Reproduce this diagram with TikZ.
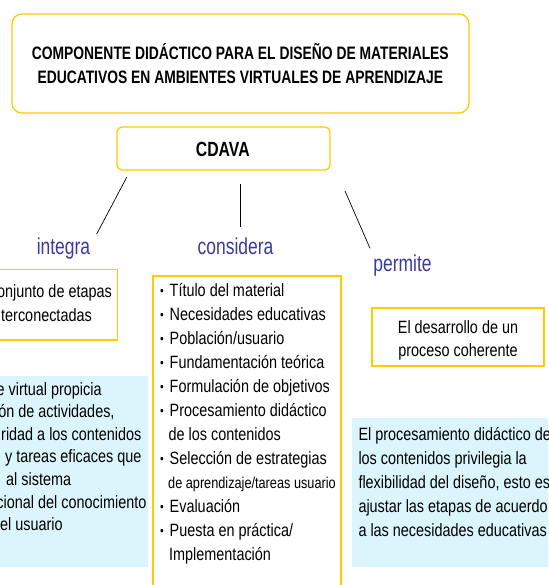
\documentclass[tikz,border=0pt]{standalone}
\usepackage{fontspec}
\setmainfont{Liberation Sans}[FakeStretch=0.81]
\newfontfamily\titlefont{Liberation Sans}[FakeStretch=0.77]
\newfontfamily\labelfont{Liberation Sans}[FakeStretch=0.76]
\definecolor{ybord}{RGB}{255,204,0}
\definecolor{lblue}{RGB}{58,58,158}
\definecolor{cyanfill}{RGB}{218,246,252}
\begin{document}
\begin{tikzpicture}[x=1pt,y=-1pt,
  ybox/.style={draw=ybord, line width=1.3pt, fill=white, inner sep=0pt},
  bbox/.style={fill=cyanfill, draw=none, inner sep=0pt},
  txt/.style={inner sep=0pt, anchor=base west, font=\fontsize{17.8}{21}\selectfont},
  smalltxt/.style={inner sep=0pt, anchor=base west, font=\fontsize{15.7}{19}\selectfont},
  ctxt/.style={inner sep=0pt, anchor=base, font=\fontsize{17.8}{21}\selectfont},
  ttl/.style={inner sep=0pt, anchor=base, font=\titlefont\bfseries\fontsize{18}{21}\selectfont},
  lbl/.style={inner sep=0pt, anchor=base, text=lblue, font=\labelfont\fontsize{23}{27}\selectfont},
  conn/.style={draw=black, line width=0.7pt},
  bul/.style={inner sep=0pt, anchor=base, font=\fontsize{13}{15}\selectfont}]
\useasboundingbox (0,0) rectangle (548,585);
\clip (0,0) rectangle (548,585);

% top box
\node[ybox, rounded corners=10pt, minimum width=457pt, minimum height=99pt] (top) at (240.5,63.5) {};
\node[ttl] (t1) at (240.3,59.3) {COMPONENTE DIDÁCTICO PARA EL DISEÑO DE MATERIALES};
\node[ttl] (t2) at (240.3,83.3) {EDUCATIVOS EN AMBIENTES VIRTUALES DE APRENDIZAJE};

% CDAVA
\node[ybox, rounded corners=5pt, minimum width=213pt, minimum height=43pt] (cdava) at (223.5,148.5) {};
\node[inner sep=0pt, anchor=base, font=\titlefont\bfseries\fontsize{20.5}{24}\selectfont] (cdt) at (222.8,156.7) {CDAVA};

% connectors
\coordinate (i1) at (126.7,177.3);
\coordinate (i2) at (96.7,234);
\coordinate (c1) at (240.7,184);
\coordinate (c2) at (240.7,227.3);
\coordinate (p1) at (345,191);
\coordinate (p2) at (370,248.3);
\draw[conn] (i1) -- (i2);
\draw[conn] (c1) -- (c2);
\draw[conn] (p1) -- (p2);

% labels
\node[lbl] (integra) at (63.5,254) {integra};
\node[lbl] (considera) at (235.5,254) {considera};
\node[lbl] (permite) at (402.5,271.7) {permite};

% conjunto box
\node[ybox, minimum width=127.3pt, minimum height=70.7pt] (conj) at (53.65,304.65) {};
\node[txt] (cj1) at (-3,297) {onjunto de etapas};
\node[txt] (cj2) at (1,321) {terconectadas};

% left blue box
\node[bbox, minimum width=158pt, minimum height=191pt] (lb) at (69,471.5) {};
\node[txt] (l1) at (-3.6,395) {e virtual propicia};
\node[txt] (l2) at (-1.9,417.6) {ón de actividades,};
\node[txt] (l3) at (1,440.2) {ridad a los contenidos};
\node[txt] (l4) at (5,462.8) {y tareas eficaces que};
\node[txt] (l5) at (6,485.4) {al sistema};
\node[txt] (l6) at (-3.7,508) {cional del conocimiento};
\node[txt] (l7) at (-8,530.6) {del usuario};

% considera box
\node[ybox, minimum width=188pt, minimum height=334pt] (cons) at (247,443) {};
\node[bul] (b1) at (162,295.5) {•};
\node[txt] (k1) at (169.5,296.7) {Título del material};
\node[bul] (b2) at (162,319.5) {•};
\node[txt] (k2) at (169.5,320.7) {Necesidades educativas};
\node[bul] (b3) at (162,343.5) {•};
\node[txt] (k3) at (169.5,344.7) {Población/usuario};
\node[bul] (b4) at (162,367.5) {•};
\node[txt] (k4) at (169.5,368.7) {Fundamentación teórica};
\node[bul] (b5) at (162,391.5) {•};
\node[txt] (k5) at (169.5,392.7) {Formulación de objetivos};
\node[bul] (b6) at (162,415.5) {•};
\node[txt] (k6) at (169.5,416.7) {Procesamiento didáctico};
\node[txt] (k6b) at (168.5,440.7) {de los contenidos};
\node[bul] (b7) at (162,463.5) {•};
\node[txt] (k7) at (169.5,464.7) {Selección de estrategias};
\node[smalltxt] (k7b) at (168,488.7) {de aprendizaje/tareas usuario};
\node[bul] (b8) at (162,511.5) {•};
\node[txt] (k8) at (169.5,512.7) {Evaluación};
\node[bul] (b9) at (162,535.5) {•};
\node[txt] (k9) at (169.5,536.7) {Puesta en práctica/};
\node[txt] (k9b) at (169,560.7) {Implementación};

% desarrollo box
\node[ybox, minimum width=172pt, minimum height=58pt] (des) at (458,337) {};
\node[ctxt] (d1) at (458,333) {El desarrollo de un};
\node[ctxt] (d2) at (458,356) {proceso coherente};

% right blue box
\node[bbox, minimum width=210pt, minimum height=149pt] (rb) at (456.7,492.5) {};
\node[txt] (r1) at (358.3,440) {El procesamiento didáctico de};
\node[txt] (r2) at (358.3,464.2) {los contenidos privilegia la};
\node[txt] (r3) at (358.3,488.4) {flexibilidad del diseño, esto es};
\node[txt] (r4) at (358.3,512.6) {ajustar las etapas de acuerdo};
\node[txt] (r5) at (358.3,536.8) {a las necesidades educativas};
\end{tikzpicture}
\end{document}
